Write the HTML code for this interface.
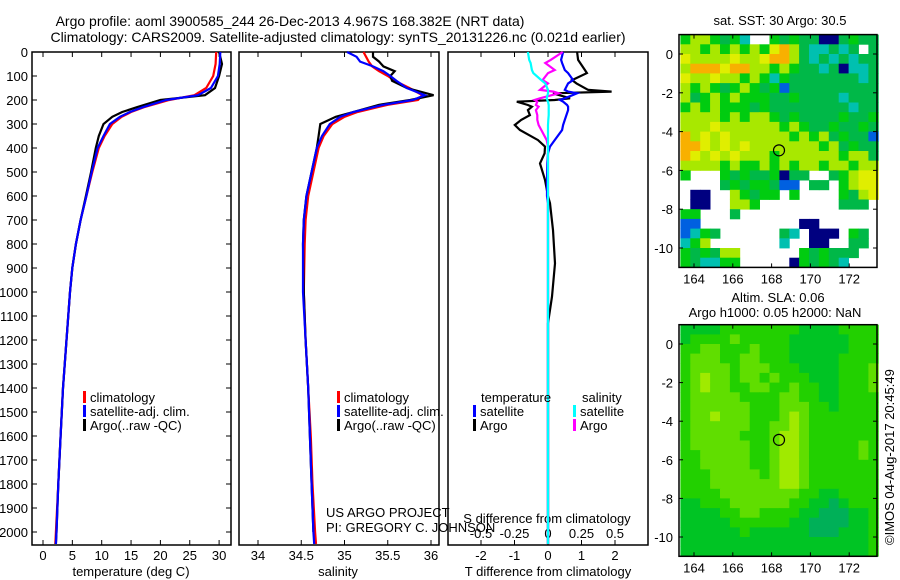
<!DOCTYPE html>
<html><head><meta charset="utf-8"><style>
html,body{margin:0;padding:0;background:#fff;}
svg{display:block;font-family:"Liberation Sans",sans-serif;}
text{font-size:13px;fill:#000;}
</style></head><body>
<svg id="fig" width="900" height="580" viewBox="0 0 900 580">
<text x="290" y="26" text-anchor="middle" style="font-size:14px">Argo profile: aoml 3900585_244 26-Dec-2013 4.967S 168.382E (NRT data)</text>
<text x="338" y="42" text-anchor="middle" style="font-size:14px">Climatology: CARS2009. Satellite-adjusted climatology: synTS_20131226.nc (0.021d earlier)</text>
<text x="780" y="25" text-anchor="middle">sat. SST: 30 Argo: 30.5</text>
<text x="778" y="302" text-anchor="middle">Altim. SLA: 0.06</text>
<text x="775" y="317" text-anchor="middle">Argo h1000: 0.05 h2000: NaN</text>
<text transform="translate(894,545) rotate(-90)">©IMOS 04-Aug-2017 20:45:49</text>
<g id="layer"></g>
</svg>
<script>
// ---- depth grids and series ----
const depthT = [0,50,100,150,180,200,230,250,270,300,350,400,500,600,700,800,900,1000,1200,1400,1600,1800,2000,2050];
const tempClim = [29.5,29.4,29.0,27.8,25.8,21.5,17.2,15.0,13.4,11.8,10.5,9.5,8.4,7.4,6.4,5.6,5.0,4.6,4.0,3.4,3.0,2.6,2.2,2.1];
const tempSat  = [30.2,30.1,29.8,28.6,26.4,21.0,17.0,14.8,13.1,11.4,10.3,9.3,8.3,7.4,6.4,5.6,5.0,4.6,4.0,3.4,3.0,2.6,2.3,2.2];
const tempArgo = [30.0,30.5,30.0,29.3,27.6,20.0,16.0,13.5,11.8,10.3,9.5,9.0,8.2,7.3,6.4,5.6,5.0,4.6,4.0,3.4,3.0,2.6,2.3,2.2];
const depthS = [0,20,40,60,80,100,120,150,180,200,220,250,270,300,350,400,500,600,700,800,1000,1200,1400,1600,1800,2000,2050];
const salClim = [35.22,35.25,35.28,35.32,35.40,35.50,35.58,35.75,35.90,35.85,35.50,35.15,35.00,34.86,34.76,34.70,34.64,34.58,34.55,34.54,34.53,34.55,34.58,34.61,34.63,34.66,34.67];
const salSat  = [35.03,35.14,35.18,35.33,35.45,35.53,35.60,35.72,35.93,35.79,35.45,35.10,34.95,34.83,34.74,34.68,34.62,34.56,34.53,34.52,34.52,34.55,34.58,34.60,34.62,34.64,34.65];
const salArgo = [35.33,35.33,35.40,35.45,35.58,35.53,35.55,35.72,36.03,35.76,35.40,35.10,34.90,34.72,34.70,34.68,34.62,34.56,34.53,34.52,34.53,34.55,34.58,34.60,34.62,34.64];
const depthD = [0,33,46,75,88,117,131,158,165,172,193,200,207,221,228,242,263,283,304,325,367,394,422,464,533,600,630,742,881,1019,1130,1300,1600,2000,2050];
const tDiffSat  = [0.45,0.39,0.42,0.5,0.6,0.75,0.6,0.5,0.6,0.87,0.5,0.36,0.45,0.57,0.6,0.6,0.55,0.5,0.45,0.42,0.2,0.06,0,-0.02,-0.03,-0.03,0,0,0,0,0,0,0,0,0];
const tDiffArgo = [0.87,0.9,0.96,1.1,1.16,0.72,0.85,1.2,1.9,0.15,0.66,0.2,-0.93,-0.6,-0.48,-0.6,-0.54,-0.8,-0.99,-0.84,-0.3,-0.09,-0.1,-0.24,-0.09,0,0.06,0.15,0.21,0.12,0,0,0,0,0];
const sDiffArgo = [0.11,0.02,-0.02,0.05,0.0,-0.04,0.0,-0.06,0.04,0.08,-0.06,-0.1,-0.08,-0.09,-0.07,-0.09,-0.08,-0.08,-0.07,-0.05,-0.01,0,0,0,0,0,0,0,0,0,0,0,0,0,0];
const sDiffSat  = [-0.15,-0.14,-0.13,-0.12,-0.11,-0.05,-0.02,0,0,0,-0.01,-0.005,0,0.005,0.005,0.005,0.005,0.002,0,0,0,0,0,0,0,0,0,0,0,0,0,0,0,0,0];
const depthTicks = [0,100,200,300,400,500,600,700,800,900,1000,1100,1200,1300,1400,1500,1600,1700,1800,1900,2000];
const tempTicks = [0,5,10,15,20,25,30];
const salTicks = [34,34.5,35,35.5,36];
const tDiffTicks = [-2,-1,0,1,2];
const sDiffTicks = [-0.5,-0.25,0,0.25,0.5];
// ---- map grids (rows lat 1 -> -11 step 0.5, cols lon 163.3 step 0.51) ----
const sstRows = [
"gLLgGgC  gGgGGNNGgGG","LLgLgLgLgYOLGCCGCG G","YLLLLYLLYOOLGCGCGCGG","LOOOYOOLLgLgGGCGNCCG",
"YLLYLLgLgCgGGGGGGGCG","LgLgGgLgGgBGGGGGGGGG","LGgLgLgggGGgGGGGCGGG","gLgLgggGgGGGGGGGGCGG",
"LLLLgLgLLgGgGGGGgGGg","LLLYLLLLLLgLgGGgGGgG","OLYLYLLLLLLgLgLGgGGB","OOYLYLYLLLLLLLgLGgGG",
"OYLYLYLLLgLLLLLLgLLG","LLLLgLggLgLgLLgLLgLL","g   gGgGGgNGG  GgLYY","    GgGggGBB GG gLYY",
" NN  LgGgg g    gGLY"," NN  LLg        GGG ","gg   G              ","BB          NN      ",
"BCgG      GC NNN gG ","CgL       C  NN  GG ","gGgGLL      gGgGGG  ","gGCCgg     NgGgGC   "];
const slaRows = [
"ddddaaaaaaaaddddaaaa","daaaabaaaaaddddddaaa","aabbaaabaaaddddddaaa","abbbaabbaaadddddaaaa",
"abbbbabbbaaaddddaaab","abcbbabbabaaadddaaab","abcbbaabbaabaaddaaab","abbbbbaaaabbaaddaaaa",
"abbbbbbaaabbbaadaaaa","abbcbbbaaabcbaaaaaaa","abbbbbbaabbcbaaaaaaa","abbbbbaaabccbaaaaaaa",
"abbbbbbaabccbaaaaaba","aabbbbbaabccbaaaaaba","aabbbbbaabccbaaaaaaa","aaabbbbbabccbaaaaaaa",
"aaabbbbbbbccbaaaaaaa","aaaabbbbbbbbaaddaaaa","ddaaabbbbbbaaddedaaa","ddddaabbaaaaddeeedda",
"dddddaaaaaaddeeeedda","ddddddaddddddeeeddda","ddddddddddddddddddda","ddddddddddddddddddda"];
const lonTicks = [164,166,168,170,172];
const latTicks = [0,-2,-4,-6,-8,-10];
const argoPos = [168.382,-4.967];

const NS="http://www.w3.org/2000/svg";
const layer=document.getElementById('layer');
function mk(tag,attrs,parent){const e=document.createElementNS(NS,tag);for(const k in attrs)e.setAttribute(k,attrs[k]);(parent||layer).appendChild(e);return e;}
function txt(x,y,s,anchor,parent){const t=mk('text',{x:x,y:y,'text-anchor':anchor||'start'},parent);t.textContent=s;return t;}

const yD = d => 52 + d*0.24;
const xT = t => 43 + t*5.87;
const xS = s => 258 + (s-34)*86.5;
const xDT = v => 548 + v*33.5;
const xDS = v => 548 + v*4*33.5;
const YB=545, YT=52;

function panel(name,x0,x1){
  const r=mk('rect',{x:x0,y:YT,width:x1-x0,height:YB-YT,fill:'none',stroke:'#000','stroke-width':1.5});
  
  
}
panel('temperature-panel-frame',32,231);
panel('salinity-panel-frame',239,439);
panel('difference-panel-frame',448,648);

depthTicks.forEach(d=>{
  const y=yD(d);
  mk('line',{x1:32,x2:37,y1:y,y2:y,stroke:'#000'});
  mk('line',{x1:226,x2:231,y1:y,y2:y,stroke:'#000'});
  const t=txt(28,y+5,String(d),'end');
  
  
});
function xticks(ticks,fx,labY,fmt,name,topTicks){
  ticks.forEach(v=>{
    const x=fx(v);
    mk('line',{x1:x,x2:x,y1:YB,y2:YB-5,stroke:'#000'});
    if(topTicks) mk('line',{x1:x,x2:x,y1:YT,y2:YT+5,stroke:'#000'});
    const t=txt(x,labY,fmt(v),'middle');
    
    
  });
}
xticks(tempTicks,xT,560,String,'temperature-tick-label',true);
xticks(salTicks,xS,560,String,'salinity-tick-label',true);
xticks(tDiffTicks,xDT,560,String,'t-difference-tick-label',true);
sDiffTicks.forEach(v=>{
  const t=txt(xDS(v),538,String(v),'middle');
  
  
});
[['temperature (deg C)',131,'temperature-axis-title'],['salinity',338,'salinity-axis-title'],['T difference from climatology',548,'t-difference-axis-title']].forEach(a=>{
  const t=txt(a[1],576,a[0],'middle');
  
  
});
{const t=txt(547,523,'S difference from climatology','middle');
 
 }
{const t=txt(326,517,'US ARGO PROJECT');
 
 
 const t2=txt(326,532,'PI: GREGORY C. JOHNSON');
 
 }

function line(depths,vals,fx,color,name,w){
  const pts=vals.map((v,i)=>fx(v).toFixed(1)+','+yD(depths[i]).toFixed(1)).join(' ');
  const p=mk('polyline',{points:pts,fill:'none',stroke:color,'stroke-width':w||2.2,'stroke-linejoin':'miter'});
  
  
}
line(depthT,tempClim,xT,'#f00','temperature-climatology-line');
line(depthT,tempArgo,xT,'#000','temperature-argo-line');
line(depthT,tempSat,xT,'#00f','temperature-satellite-line');
line(depthS,salClim,xS,'#f00','salinity-climatology-line');
line(depthS.slice(0,salArgo.length),salArgo,xS,'#000','salinity-argo-line');
line(depthS,salSat,xS,'#00f','salinity-satellite-line');
line(depthD,tDiffArgo,xDT,'#000','t-difference-argo-line');
line(depthD,tDiffSat,xDT,'#00f','t-difference-satellite-line');
line(depthD,sDiffArgo,xDS,'#f0f','s-difference-argo-line');
line(depthD,sDiffSat,xDS,'#0ff','s-difference-satellite-line');

function legend(x,y,color,label,name){
  const g=mk('g',{});
  
  
  mk('rect',{x:x,y:y-11,width:3,height:12,fill:color},g);
  txt(x+7,y,label,'start',g);
}
[[83,'climatology','#f00'],[83,'satellite-adj. clim.','#00f'],[83,'Argo(..raw -QC)','#000']].forEach((l,i)=>legend(l[0],402+i*14,l[2],l[1],'temp-legend-entry'));
[[337,'climatology','#f00'],[337,'satellite-adj. clim.','#00f'],[337,'Argo(..raw -QC)','#000']].forEach((l,i)=>legend(l[0],402+i*14,l[2],l[1],'sal-legend-entry'));
{const t=txt(481,402,'temperature');
 const t2=txt(582,402,'salinity');}
legend(473,416,'#00f','satellite','diff-legend-t-satellite');
legend(473,430,'#000','Argo','diff-legend-t-argo');
legend(573,416,'#0ff','satellite','diff-legend-s-satellite');
legend(573,430,'#f0f','Argo','diff-legend-s-argo');

const sstPal={N:'#000080',B:'#0060e0',C:'#00c0b0',G:'#00b848',g:'#00cc10',L:'#a8e800',Y:'#e0ee00',O:'#f8b000'};
const slaPal={a:'#22d000',b:'#60de00',c:'#a0ea00',d:'#00c424',e:'#00b058'};
const lon0=163.3,dlon=0.51,lat0=1,dlat=0.5;
function drawMap(name,rows,pal,mx0,mx1,fy,fxl){
  const g=mk('g',{});
  
  
  rows.forEach((row,r)=>{
    for(let c=0;c<row.length;c++){
      const col=pal[row[c]]; if(!col) continue;
      const xa=fxl(lon0+c*dlon), xb=fxl(lon0+(c+1)*dlon);
      const ya=fy(lat0-r*dlat), yb=fy(lat0-(r+1)*dlat);
      const cell=mk('rect',{x:xa.toFixed(1),y:ya.toFixed(1),width:(xb-xa+0.4).toFixed(1),height:(yb-ya+0.4).toFixed(1),fill:col},g);
      
      
    }
  });
  const yt=fy(1), yb=fy(-11);
  const fr=mk('rect',{x:mx0,y:yt,width:mx1-mx0,height:yb-yt,fill:'none',stroke:'#000','stroke-width':1.5});
  
  
  lonTicks.forEach(v=>{const x=fxl(v);mk('line',{x1:x,x2:x,y1:yb,y2:yb-4,stroke:'#000'});mk('line',{x1:x,x2:x,y1:yt,y2:yt+4,stroke:'#000'});
    const t=txt(x,yb+16,String(v),'middle');});
  latTicks.forEach(v=>{const y=fy(v);mk('line',{x1:mx0,x2:mx0+4,y1:y,y2:y,stroke:'#000'});mk('line',{x1:mx1,x2:mx1-4,y1:y,y2:y,stroke:'#000'});
    const t=txt(mx0-6,y+5,String(v),'end');});
  const c=mk('circle',{cx:fxl(argoPos[0]),cy:fy(argoPos[1]),r:5.5,fill:'none',stroke:'#000','stroke-width':1.2});
  
  
}
const fxl = lon => 694 + (lon-164)*19.4;
drawMap('sst-map',sstRows,sstPal,679,877,lat=>54-lat*19.4,fxl);
drawMap('sla-map',slaRows,slaPal,679,877,lat=>344-lat*19.3,fxl);
</script>
</body></html>
